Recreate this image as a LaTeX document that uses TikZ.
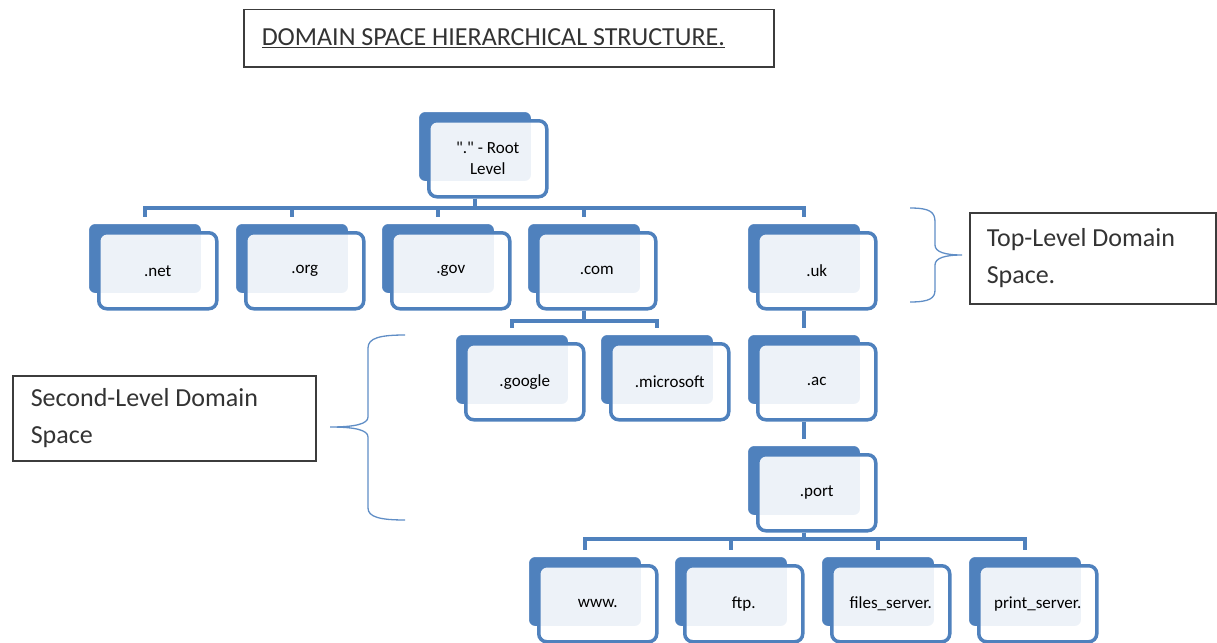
\documentclass[tikz,border=0pt]{standalone}
\usepackage{fontspec}
\setmainfont{Carlito}
\usepackage{xcolor}
\usetikzlibrary{positioning,calc}
\definecolor{dnsblue}{RGB}{79,129,189}
\definecolor{dnsbrace}{RGB}{96,142,198}
\definecolor{dnsframe}{RGB}{60,60,60}

\begin{document}
\begin{tikzpicture}[x=1pt, y=-1pt, every node/.style={font=\fontsize{17}{21}\selectfont}]
  \tikzset{
    backbox/.style={anchor=north west, fill=dnsblue, draw=white, line width=2pt, rounded corners=7pt, minimum width=114pt, minimum height=71pt, inner sep=0pt},
    frontbox/.style={anchor=north west, draw=dnsblue, line width=3.5pt, fill=white, fill opacity=0.9, text opacity=1, rounded corners=8pt, minimum width=118pt, minimum height=76pt, inner sep=0pt, align=flush center},
    link/.style={draw=dnsblue, line width=4pt, shorten >=5pt},
    labelbox/.style={anchor=north west, draw=dnsframe, line width=1.5pt, align=flush left, text=black!80, font=\fontsize{26}{37}\selectfont},
    curly/.style={draw=dnsbrace, line width=1.3pt}
  }
  \useasboundingbox (0,0) rectangle (1217,642);

  % Title
  \node[labelbox, minimum height=57pt, inner xsep=18pt, text width=494pt, font=\fontsize{26}{30}\selectfont] (title) at (243,9) {\underline{DOMAIN SPACE HIERARCHICAL STRUCTURE.}};

  % Root level
  \node[backbox] (root-b) at (417,110) {};
  \node[frontbox] (root) at ([shift={(10,9)}]root-b.north west) {\textquotedbl.\textquotedbl\ - Root\\Level};

  % Top-level domains
  \node[backbox] (net-b) at (87,222) {};
  \node[frontbox] (net) at ([shift={(10,9)}]net-b.north west) {.net};
  \node[backbox] (org-b) at (234,222) {};
  \node[frontbox] (org) at ([shift={(10,9)}]org-b.north west) {.org};
  \node[backbox] (gov-b) at (380,222) {};
  \node[frontbox] (gov) at ([shift={(10,9)}]gov-b.north west) {.gov};
  \node[backbox] (com-b) at (526,222) {};
  \node[frontbox] (com) at ([shift={(10,9)}]com-b.north west) {.com};
  \node[backbox] (uk-b) at (746,222) {};
  \node[frontbox] (uk) at ([shift={(10,9)}]uk-b.north west) {.uk};

  % Second level
  \node[backbox] (google-b) at (454,333) {};
  \node[frontbox] (google) at ([shift={(10,9)}]google-b.north west) {.google};
  \node[backbox] (microsoft-b) at (599,333) {};
  \node[frontbox] (microsoft) at ([shift={(10,9)}]microsoft-b.north west) {.microsoft};
  \node[backbox] (ac-b) at (746,333) {};
  \node[frontbox] (ac) at ([shift={(10,9)}]ac-b.north west) {.ac};
  \node[backbox] (port-b) at (746,444) {};
  \node[frontbox] (port) at ([shift={(10,9)}]port-b.north west) {.port};

  % Hosts
  \node[backbox] (www-b) at (527,555) {};
  \node[frontbox] (www) at ([shift={(10,9)}]www-b.north west) {www.};
  \node[backbox] (ftp-b) at (673,555) {};
  \node[frontbox] (ftp) at ([shift={(10,9)}]ftp-b.north west) {ftp.};
  \node[backbox] (files-b) at (820,555) {};
  \node[frontbox] (files) at ([shift={(10,9)}]files-b.north west) {files\_server.};
  \node[backbox] (print-b) at (967,555) {};
  \node[frontbox] (print) at ([shift={(10,9)}]print-b.north west) {print\_server.};

  % Connectors
  \coordinate (bus1) at (0,208);
  \coordinate (bus2) at (0,321);
  \coordinate (bus3) at (0,539);
  \foreach \d in {net,org,gov,com,uk}
    \draw[link] (root-b |- root.south) |- (bus1 -| \d-b) -- (\d-b.north);
  \foreach \d in {google,microsoft}
    \draw[link] (com-b |- com.south) |- (bus2 -| \d-b) -- (\d-b.north);
  \draw[link] (uk-b |- uk.south) -- (ac-b.north);
  \draw[link] (ac-b |- ac.south) -- (port-b.north);
  \foreach \d in {www,ftp,files,print}
    \draw[link] (port-b |- port.south) |- (bus3 -| \d-b) -- (\d-b.north);

  % Right brace and label
  \draw[curly] (910,208) .. controls (930,208) and (935,212) .. (935,222) -- (935,245)
    .. controls (935,252) and (945,255) .. (962,255)
    .. controls (945,255) and (935,258) .. (935,265) -- (935,290)
    .. controls (935,298) and (930,302) .. (910,302);
  \node[labelbox, minimum height=91pt, inner xsep=17pt, text width=212pt] (toplevel) at (969,212) {Top-Level Domain\\Space.};

  % Left brace and label
  \draw[curly] (405,335) .. controls (380,335) and (368,338) .. (368,348) -- (368,417)
    .. controls (368,424) and (355,427) .. (330,427)
    .. controls (355,427) and (368,430) .. (368,437) -- (368,508)
    .. controls (368,517) and (380,520) .. (405,520);
  \node[labelbox, minimum height=85pt, inner xsep=18pt, text width=267pt] (secondlevel) at (12,375) {Second-Level Domain\\Space};
\end{tikzpicture}
\end{document}
